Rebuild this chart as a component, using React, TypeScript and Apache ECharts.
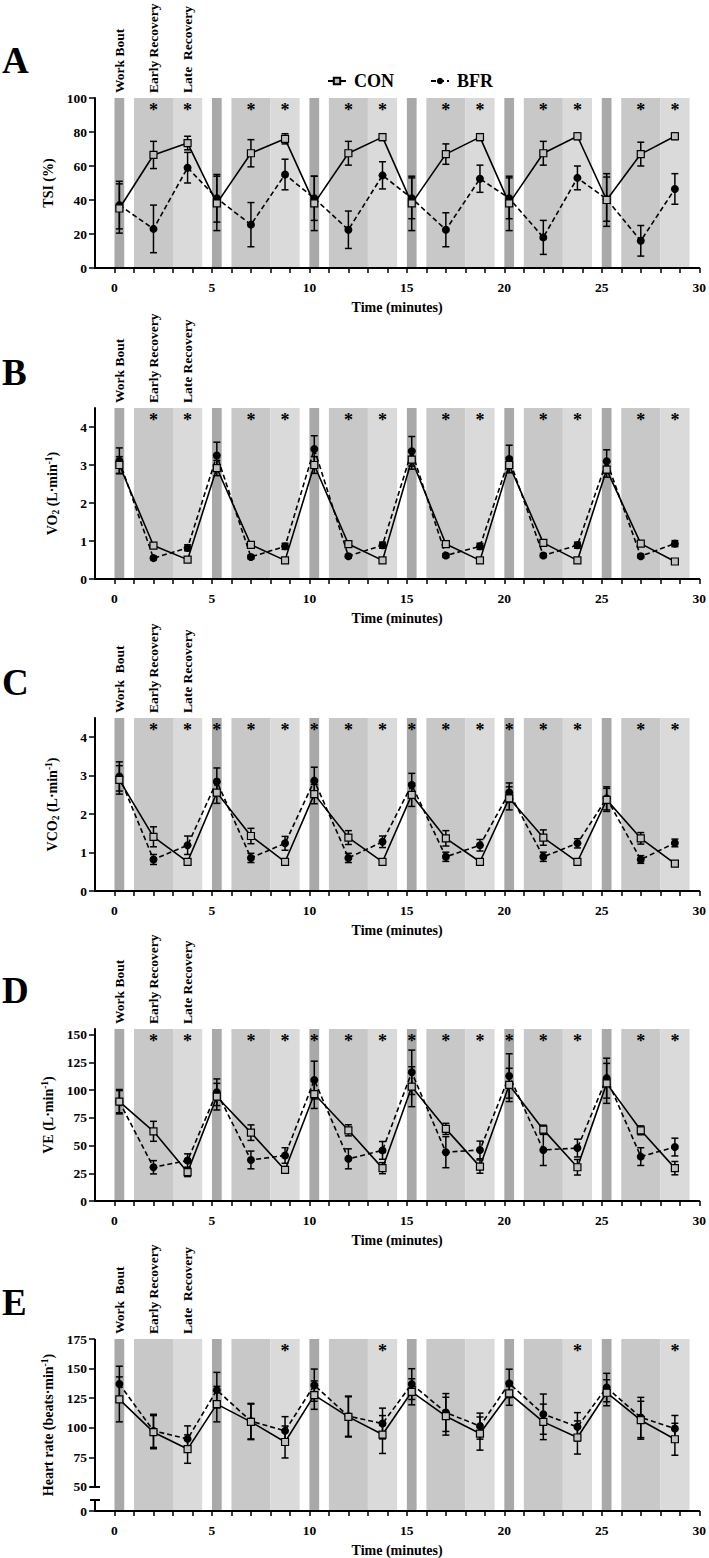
import React, { useEffect, useRef } from 'react';
import * as echarts from 'echarts';

const FONT = "'Liberation Serif', 'Times New Roman', Times, serif";

// ---------- shared time structure ----------
const timePoints = [0.25, 2, 3.75, 5.25, 7, 8.75, 10.25, 12, 13.75, 15.25, 17, 18.75, 20.25, 22, 23.75, 25.25, 27, 28.75];
const cycleStarts = [0, 5, 10, 15, 20, 25];
const workBout = [0, 0.5];
const earlyRecovery = [1, 3];
const lateRecovery = [3, 4.5];
const xTickValues = [0, 1, 2, 3, 4, 5, 6, 7, 8, 9, 10, 11, 12, 13, 14, 15, 16, 17, 18, 19, 20, 21, 22, 23, 24, 25, 26, 27, 28, 29, 30];
const xLabelValues = [0, 5, 10, 15, 20, 25, 30];
const annotationX = [0.25, 2, 3.75];
const recoveryStars = [2, 3.75, 7, 8.75, 12, 13.75, 17, 18.75, 22, 23.75, 27, 28.75];

// ---------- A: TSI ----------
const tsiCon = [35, 66.5, 73.5, 38, 67.5, 76, 38, 67.5, 77, 38, 67, 77, 38, 67.5, 77.5, 40, 67, 77.5];
const tsiConSd = [14.5, 8, 4, 16, 8, 3, 16, 7, 2, 16, 6, 2, 16, 7, 2, 15.5, 7, 2];
const tsiBfr = [37, 23, 59, 41, 25.5, 55, 41, 22.5, 54.5, 41, 22.5, 52.5, 41, 18, 53, 40.5, 16, 46.5];
const tsiBfrSd = [14, 14, 9, 14, 13, 9, 13, 11, 8, 12, 10, 8, 12, 10, 7, 13, 9, 9];
const tsiTicks = [0, 20, 40, 60, 80, 100];
const tsiStars = recoveryStars;
const tsiAnn = ['Work Bout', 'Early Recovery', 'Late \u00a0Recovery'];

// ---------- B: VO2 ----------
const vo2Con = [3.0, 0.88, 0.51, 2.92, 0.9, 0.49, 3.0, 0.92, 0.49, 3.14, 0.92, 0.49, 3.0, 0.95, 0.49, 2.88, 0.93, 0.46];
const vo2ConSd = [0.22, 0.05, 0.04, 0.2, 0.05, 0.04, 0.22, 0.05, 0.04, 0.25, 0.05, 0.04, 0.2, 0.05, 0.04, 0.2, 0.05, 0.04];
const vo2Bfr = [3.11, 0.55, 0.82, 3.25, 0.58, 0.86, 3.42, 0.6, 0.89, 3.36, 0.62, 0.86, 3.16, 0.62, 0.89, 3.1, 0.6, 0.93];
const vo2BfrSd = [0.34, 0.05, 0.08, 0.35, 0.05, 0.08, 0.35, 0.05, 0.08, 0.39, 0.05, 0.08, 0.36, 0.05, 0.08, 0.3, 0.05, 0.08];
const vo2Ticks = [0, 1, 2, 3, 4];
const vo2Stars = recoveryStars;
const vo2Ann = ['Work Bout', 'Early Recovery', 'Late Recovery'];

// ---------- C: VCO2 ----------
const vco2Con = [2.89, 1.41, 0.76, 2.56, 1.43, 0.76, 2.52, 1.39, 0.76, 2.5, 1.37, 0.76, 2.41, 1.39, 0.76, 2.37, 1.37, 0.71];
const vco2ConSd = [0.37, 0.26, 0.06, 0.28, 0.2, 0.05, 0.25, 0.18, 0.05, 0.3, 0.2, 0.05, 0.3, 0.2, 0.05, 0.3, 0.15, 0.05];
const vco2Bfr = [2.98, 0.82, 1.19, 2.85, 0.86, 1.24, 2.87, 0.86, 1.28, 2.76, 0.89, 1.19, 2.56, 0.89, 1.24, 2.41, 0.82, 1.25];
const vco2BfrSd = [0.38, 0.13, 0.24, 0.35, 0.12, 0.18, 0.35, 0.12, 0.15, 0.3, 0.12, 0.15, 0.25, 0.12, 0.12, 0.3, 0.1, 0.1];
const vco2Ticks = [0, 1, 2, 3, 4];
const vco2Stars = [...recoveryStars, 5.25, 10.25, 15.25, 20.25];
const vco2Ann = ['Work \u00a0Bout', 'Early Recovery', 'Late Recovery'];

// ---------- D: VE ----------
const veCon = [89.5, 62.8, 26, 94, 61.6, 28, 96.4, 63.7, 29.6, 103, 65, 31, 104.6, 64.3, 30.4, 106, 63.7, 29.6];
const veConSd = [10, 9, 4, 12, 7, 3, 13, 5, 5, 18, 5, 6, 15, 4, 7, 18, 4, 6];
const veBfr = [89.5, 30.4, 36.5, 98, 37, 41, 109, 38, 45.6, 116, 44, 46, 112.7, 46, 47.7, 110.7, 40, 48.6];
const veBfrSd = [11, 6, 6, 12, 8, 7, 17, 9, 8, 20, 14, 8, 20, 14, 8, 18, 8, 8];
const veTicks = [0, 25, 50, 75, 100, 125, 150];
const veStars = [...recoveryStars, 10.25, 15.25, 20.25];
const veAnn = ['Work Bout', 'Early Recovery', 'Late Recovery'];

// ---------- E: Heart rate ----------
const hrCon = [124, 96.3, 82, 120, 105, 88, 127.6, 109.2, 94.3, 130.4, 109.8, 95.1, 129, 105, 91.8, 129.6, 106.4, 90.3];
const hrConSd = [19, 14, 12, 15, 15, 13.5, 12, 17, 16, 11, 16, 14, 10, 15, 14, 11, 16, 13.5];
const hrBfr = [137, 97.4, 90.6, 131.8, 105.6, 97.4, 136, 109.8, 103.6, 136.9, 112.9, 101.4, 137.5, 111.5, 100.8, 134, 108.7, 99.4];
const hrBfrSd = [15, 14, 11, 15, 15, 12, 13.6, 17, 13, 13, 16, 11, 12, 17, 12, 12, 17, 11];
const hrAxisBottom = 29.7; // broken axis: bottom shown as 0
const hrTicks = [hrAxisBottom, 50, 75, 100, 125, 150, 175];
const hrStars = [8.75, 13.75, 23.75, 28.75];
const hrAnn = ['Work \u00a0Bout', 'Early Recovery', 'Late \u00a0Recovery'];

const bandColors = ['#a9a9a9', '#c8c8c8', '#dadada'];

const richStyles = {
  n: { fontSize: 14, fontWeight: 'bold', fontFamily: FONT, color: '#000', lineHeight: 17 },
  s: { fontSize: 9.5, fontWeight: 'bold', fontFamily: FONT, color: '#000', lineHeight: 9, verticalAlign: 'bottom' },
  p: { fontSize: 9.5, fontWeight: 'bold', fontFamily: FONT, color: '#000', lineHeight: 9, verticalAlign: 'top' },
};

const panels = [
  { letter: 'A', letterY: 60, top: 98, height: 170, min: 0, max: 100, ticks: tsiTicks, con: tsiCon, conSd: tsiConSd, bfr: tsiBfr, bfrSd: tsiBfrSd, stars: tsiStars, ann: tsiAnn, name: '{n|TSI (%)}', nameGap: 33 },
  { letter: 'B', letterY: 372, top: 408, height: 171, min: 0, max: 4.5, ticks: vo2Ticks, con: vo2Con, conSd: vo2ConSd, bfr: vo2Bfr, bfrSd: vo2BfrSd, stars: vo2Stars, ann: vo2Ann, name: '{n|VO}{s|2}{n| (L·min}{p|-1}{n|)}', nameGap: 34 },
  { letter: 'C', letterY: 682, top: 718, height: 173, min: 0, max: 4.5, ticks: vco2Ticks, con: vco2Con, conSd: vco2ConSd, bfr: vco2Bfr, bfrSd: vco2BfrSd, stars: vco2Stars, ann: vco2Ann, name: '{n|VCO}{s|2}{n| (L·min}{p|-1}{n|)}', nameGap: 34 },
  { letter: 'D', letterY: 990, top: 1029, height: 172, min: 0, max: 155, ticks: veTicks, con: veCon, conSd: veConSd, bfr: veBfr, bfrSd: veBfrSd, stars: veStars, ann: veAnn, name: '{n|VE (L·min}{p|-1}{n|)}', nameGap: 34 },
  { letter: 'E', letterY: 1302, top: 1339, height: 172, min: hrAxisBottom, max: 175, ticks: hrTicks, con: hrCon, conSd: hrConSd, bfr: hrBfr, bfrSd: hrBfrSd, stars: hrStars, ann: hrAnn, name: '{n|Heart rate (beats·min}{p|-1}{n|)}', nameGap: 34, broken: true },
];

function errorBarItem(params: any, api: any) {
  const x = api.value(0);
  const lo = api.coord([x, api.value(1)]);
  const hi = api.coord([x, api.value(2)]);
  const w = 3.5;
  const st = { stroke: '#000', lineWidth: 1.5 };
  return {
    type: 'group',
    children: [
      { type: 'line', shape: { x1: lo[0], y1: lo[1], x2: hi[0], y2: hi[1] }, style: st },
      { type: 'line', shape: { x1: lo[0] - w, y1: lo[1], x2: lo[0] + w, y2: lo[1] }, style: st },
      { type: 'line', shape: { x1: hi[0] - w, y1: hi[1], x2: hi[0] + w, y2: hi[1] }, style: st },
    ],
  };
}

function buildOption() {
  const grid: any[] = [];
  const xAxis: any[] = [];
  const yAxis: any[] = [];
  const series: any[] = [];
  const graphic: any[] = [];

  panels.forEach((p, i) => {
    grid.push({ left: 95, width: 607, top: p.top, height: p.height });
    xAxis.push({
      type: 'value', gridIndex: i, min: -1, max: 30, z: 10,
      axisLine: { onZero: false, lineStyle: { color: '#000', width: 2 } },
      axisTick: { customValues: xTickValues, length: 5, lineStyle: { color: '#000', width: 1.5 } },
      axisLabel: { customValues: xLabelValues, margin: 12, color: '#000', fontSize: 13.5, fontWeight: 'bold', fontFamily: FONT },
      splitLine: { show: false },
      name: 'Time (minutes)', nameLocation: 'middle', nameGap: 32,
      nameTextStyle: { color: '#000', fontSize: 14, fontWeight: 'bold', fontFamily: FONT },
    });
    yAxis.push({
      type: 'value', gridIndex: i, min: p.min, max: p.max, z: 10,
      axisLine: { show: !p.broken, onZero: false, lineStyle: { color: '#000', width: 2 } },
      axisTick: { show: true, customValues: p.ticks, length: 6, lineStyle: { color: '#000', width: 1.5 } },
      axisLabel: {
        customValues: p.ticks, margin: 8, color: '#000', fontSize: 13.5, fontWeight: 'bold', fontFamily: FONT,
        formatter: (v: number) => (p.broken && v < 40 ? '0' : String(v)),
      },
      splitLine: { show: false },
      name: p.name, nameLocation: 'middle', nameGap: p.nameGap, nameRotate: 90,
      nameTextStyle: { color: '#000', fontSize: 14, fontWeight: 'bold', fontFamily: FONT, rich: richStyles },
    });

    const bandData: number[][] = [];
    cycleStarts.forEach((c) => {
      bandData.push([c + workBout[0], c + workBout[1], 0]);
      bandData.push([c + earlyRecovery[0], c + earlyRecovery[1], 1]);
      bandData.push([c + lateRecovery[0], c + lateRecovery[1], 2]);
    });
    series.push({
      type: 'custom', xAxisIndex: i, yAxisIndex: i, z: 1, silent: true, data: bandData,
      renderItem: (params: any, api: any) => {
        const a = api.coord([api.value(0), p.max]);
        const b = api.coord([api.value(1), p.min]);
        return { type: 'rect', shape: { x: a[0], y: a[1], width: b[0] - a[0], height: b[1] - a[1] }, style: { fill: bandColors[api.value(2)] } };
      },
    });
    series.push({
      type: 'custom', xAxisIndex: i, yAxisIndex: i, z: 3, silent: true,
      data: timePoints.map((t, k) => [t, p.bfr[k] - p.bfrSd[k], p.bfr[k] + p.bfrSd[k]]),
      renderItem: errorBarItem,
    });
    series.push({
      type: 'custom', xAxisIndex: i, yAxisIndex: i, z: 3, silent: true,
      data: timePoints.map((t, k) => [t, p.con[k] - p.conSd[k], p.con[k] + p.conSd[k]]),
      renderItem: errorBarItem,
    });
    series.push({
      type: 'line', name: 'BFR', xAxisIndex: i, yAxisIndex: i, z: 4, silent: true,
      data: timePoints.map((t, k) => [t, p.bfr[k]]),
      symbol: 'circle', symbolSize: 8,
      lineStyle: { color: '#000', width: 1.6, type: [5, 3] },
      itemStyle: { color: '#000' },
    });
    series.push({
      type: 'line', name: 'CON', xAxisIndex: i, yAxisIndex: i, z: 5, silent: true,
      data: timePoints.map((t, k) => [t, p.con[k]]),
      symbol: 'rect', symbolSize: 7,
      lineStyle: { color: '#000', width: 1.6 },
      itemStyle: { color: '#c0c0c0', borderColor: '#000', borderWidth: 1.2 },
    });
    series.push({
      type: 'custom', xAxisIndex: i, yAxisIndex: i, z: 6, silent: true,
      data: p.stars.map((x) => [x, p.max]),
      renderItem: (params: any, api: any) => {
        const c = api.coord([api.value(0), p.max]);
        return { type: 'text', x: c[0], y: c[1] + 3, style: { text: '*', fontSize: 18, fontWeight: 'bold', fontFamily: FONT, fill: '#000', align: 'center', verticalAlign: 'top' } };
      },
    });
    series.push({
      type: 'custom', xAxisIndex: i, yAxisIndex: i, z: 6, silent: true,
      data: annotationX.map((x, k) => [x, p.max, k]),
      renderItem: (params: any, api: any) => {
        const c = api.coord([api.value(0), p.max]);
        return { type: 'text', x: c[0], y: c[1] - 5, rotation: Math.PI / 2, style: { text: p.ann[api.value(2)], fontSize: 13.5, fontWeight: 'bold', fontFamily: FONT, fill: '#000', align: 'left', verticalAlign: 'middle' } };
      },
    });

    graphic.push({ type: 'text', x: 2, y: p.letterY, style: { text: p.letter, fontSize: 37, fontWeight: 'bold', fontFamily: FONT, fill: '#000', align: 'left', verticalAlign: 'middle' } });
  });

  return {
    animation: false,
    backgroundColor: '#fff',
    grid, xAxis, yAxis, series, graphic,
    legend: {
      data: ['CON', 'BFR'], left: 322, top: 67, itemGap: 36, itemWidth: 18, itemHeight: 8, selectedMode: false,
      textStyle: { color: '#000', fontSize: 18, fontWeight: 'bold', fontFamily: FONT, padding: [0, 0, 0, 3] },
    },
  };
}

export default function App() {
  const ref = useRef<HTMLDivElement>(null);
  useEffect(() => {
    document.body.style.margin = '0';
    if (!ref.current) return;
    const chart = echarts.init(ref.current, null, { renderer: 'svg' });
    const option: any = buildOption();
    chart.setOption(option);
    // broken axis line for panel E
    const ei = 4;
    const x0 = chart.convertToPixel({ xAxisIndex: ei } as any, -1) as number;
    const yb = chart.convertToPixel({ yAxisIndex: ei } as any, hrAxisBottom) as number;
    const y50 = chart.convertToPixel({ yAxisIndex: ei } as any, 50) as number;
    const yt = chart.convertToPixel({ yAxisIndex: ei } as any, 175) as number;
    const st = { stroke: '#000', lineWidth: 2 };
    const cap = 5;
    const extra = [
      { type: 'line', z: 100, shape: { x1: x0, y1: yb + 1, x2: x0, y2: yb - 11 }, style: st },
      { type: 'line', z: 100, shape: { x1: x0 - cap, y1: yb - 11, x2: x0 + cap, y2: yb - 11 }, style: st },
      { type: 'line', z: 100, shape: { x1: x0, y1: y50, x2: x0, y2: yt }, style: st },
      { type: 'line', z: 100, shape: { x1: x0 - cap, y1: y50, x2: x0 + cap, y2: y50 }, style: st },
    ];
    chart.setOption({ graphic: [...option.graphic, ...extra] });
    return () => chart.dispose();
  }, []);
  return <div ref={ref} style={{ width: 709, height: 1558 }} />;
}
